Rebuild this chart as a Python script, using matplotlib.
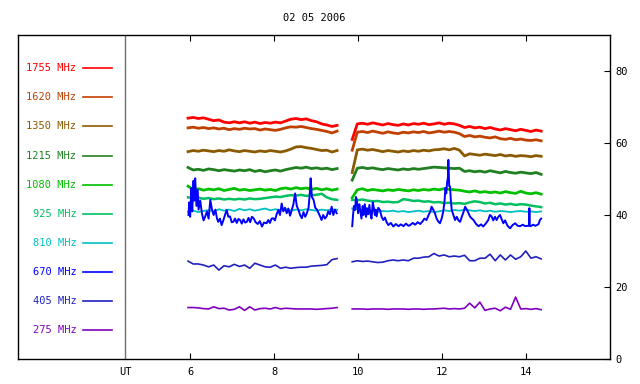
import numpy as np
import matplotlib
matplotlib.use("Agg")
import matplotlib.pyplot as plt

plt.rcParams['font.family'] = ['DejaVu Sans Mono']
plt.rcParams['font.size'] = 7.5

# tiempos de las dos tandas de registro (horas UT)
t_a = np.linspace(5.95, 9.50, 30)
t_b = np.linspace(9.86, 14.36, 38)

freqs = ['1755 MHz', '1620 MHz', '1350 MHz', '1215 MHz', '1080 MHz',
         '925 MHz', '810 MHz', '670 MHz', '405 MHz', '275 MHz']
colors = ['#ff0000', '#c04000', '#8b5a00', '#208020', '#00c000',
          '#00c060', '#00c0c0', '#0000ff', '#2020c0', '#8000c0']

f1755_a = [66.9, 67.1, 66.8, 67.0, 66.6, 66.2, 66.4, 65.8, 65.6, 65.9,
           65.6, 65.9, 65.5, 65.8, 65.4, 65.7, 65.5, 65.8, 65.6, 66.1,
           66.6, 66.8, 66.5, 66.7, 66.2, 65.9, 65.3, 65.0, 64.6, 64.9]
f1755_b = [61.0, 65.3, 65.5, 65.2, 65.6, 65.3, 65.0, 65.4, 65.1, 64.9,
           65.3, 65.0, 65.4, 65.2, 65.5, 65.1, 65.3, 65.6, 65.2, 65.5,
           65.3, 64.9, 64.3, 64.6, 64.2, 64.4, 64.0, 64.3, 63.9, 63.6,
           64.0, 63.7, 63.4, 63.8, 63.5, 63.2, 63.6, 63.3]

f1620_a = [64.2, 64.4, 64.1, 64.3, 64.0, 64.2, 63.9, 64.1, 63.7, 64.0,
           63.8, 64.1, 63.9, 64.0, 63.6, 63.9, 63.7, 63.5, 63.8, 64.2,
           64.5, 64.4, 64.6, 64.3, 64.0, 63.8, 63.5, 63.2, 62.8, 63.3]
f1620_b = [58.0, 63.0, 63.2, 62.9, 63.3, 63.0, 62.7, 63.1, 62.8, 62.6,
           63.0, 62.8, 63.1, 62.9, 63.2, 62.8, 63.0, 63.3, 63.0, 63.2,
           63.0, 62.6, 61.8, 62.1, 61.7, 61.9, 61.6, 61.4, 61.7, 61.2,
           61.0, 61.3, 60.9, 61.1, 60.8, 60.7, 60.9, 60.6]

f1350_a = [57.6, 57.9, 57.7, 58.0, 57.8, 57.6, 57.9, 57.7, 58.1, 57.8,
           57.6, 57.9, 57.7, 57.5, 57.8, 57.6, 57.9, 57.7, 57.5, 57.8,
           58.3, 58.9, 59.0, 58.7, 58.5, 58.2, 57.9, 58.0, 57.5, 57.9]
f1350_b = [51.8, 58.1, 58.3, 58.0, 58.2, 57.9, 57.6, 57.9, 57.7, 57.5,
           57.8, 57.6, 57.9, 57.7, 58.0, 57.8, 58.1, 58.2, 58.4, 58.1,
           58.5, 58.0, 56.4, 57.0, 56.8, 56.6, 56.9, 56.7, 56.5, 56.8,
           56.4, 56.6, 56.3, 56.5, 56.4, 56.2, 56.5, 56.3]

f1215_a = [53.2, 52.5, 52.7, 52.4, 52.8, 52.6, 52.3, 52.6, 52.4, 52.2,
           52.5, 52.3, 52.6, 52.1, 52.4, 52.0, 52.3, 52.5, 52.2, 52.6,
           52.9, 53.2, 53.0, 53.3, 52.9, 53.1, 52.8, 53.0, 52.6, 52.9]
f1215_b = [49.7, 53.0, 53.2, 52.9, 53.1, 52.8, 52.6, 52.9, 52.7, 52.5,
           52.8, 52.6, 52.9, 52.7, 52.9, 53.1, 53.3, 53.2, 53.1, 53.0,
           52.9, 53.0, 52.1, 52.3, 52.0, 52.2, 51.9, 52.3, 52.0, 51.7,
           52.1, 51.8, 51.6, 51.9, 51.7, 51.5, 51.8, 51.3]

f1080_a = [48.0, 47.1, 47.3, 46.9, 47.2, 47.0, 47.3, 46.8, 47.1, 47.4,
           46.9, 47.1, 46.8, 47.0, 47.2, 46.9, 47.1, 46.8, 47.3, 47.5,
           47.2, 47.6, 47.3, 47.5, 47.1, 47.4, 47.0, 47.3, 46.9, 47.2]
f1080_b = [44.8, 47.0, 47.3, 46.8, 47.1, 46.9, 46.7, 47.0, 46.8, 47.1,
           46.9, 46.7, 47.0, 46.8, 47.1, 46.9, 47.2, 47.0, 47.3, 47.1,
           47.0, 46.9, 46.6, 46.4, 46.7, 46.3, 46.5, 46.2, 46.4, 46.1,
           46.5, 46.2, 46.0, 46.6, 46.1, 45.9, 46.2, 45.8]

f925_a = [44.9, 44.7, 44.8, 44.5, 44.7, 44.4, 44.6, 44.3, 44.5, 44.3,
          44.5, 44.3, 44.6, 44.4, 44.5, 44.7, 44.9, 45.1, 45.0, 45.3,
          45.5, 45.4, 45.6, 45.3, 45.5, 45.6, 45.9, 44.9, 44.4, 44.2]
f925_b = [44.2, 44.1, 44.3, 44.0, 43.8, 43.9, 43.6, 43.7, 43.5, 43.6,
          44.4, 44.2, 43.9, 44.0, 43.7, 43.8, 43.5, 43.6, 43.3, 43.4,
          43.2, 43.3, 43.1, 43.5, 43.8, 43.6, 43.2, 43.4, 43.0, 43.2,
          42.9, 43.1, 42.8, 43.0, 42.9, 42.6, 42.4, 42.2]

f810_a = [40.9, 41.2, 40.8, 41.1, 41.4, 41.0, 41.6, 41.2, 41.5, 41.1,
          41.7, 41.3, 41.6, 41.2, 41.5, 41.8, 41.3, 41.6, 41.4, 41.7,
          41.2, 41.5, 41.3, 41.6, 41.4, 41.2, 41.5, 41.3, 41.6, 41.4]
f810_b = [41.8, 41.6, 41.3, 41.0, 41.2, 40.9, 41.1, 41.0, 41.2, 40.9,
          41.1, 40.8, 41.0, 41.2, 40.9, 41.1, 40.8, 41.0, 41.3, 41.1,
          41.4, 41.2, 41.5, 41.3, 41.1, 41.3, 41.0, 41.2, 40.9, 41.1,
          41.0, 40.8, 41.0, 41.1, 40.9, 41.0, 40.8, 41.0]

# 670 MHz es muy ruidoso: va con sus propios tiempos (hora, valor)
f670_a = [(5.96, 40.0), (5.98, 43.5), (6.00, 39.5), (6.03, 47.5), (6.05, 41.0),
          (6.08, 49.5), (6.10, 44.0), (6.12, 50.2), (6.15, 42.5), (6.18, 47.0),
          (6.20, 41.5), (6.24, 44.0), (6.28, 40.5), (6.32, 38.5), (6.36, 39.6),
          (6.40, 41.0), (6.44, 39.0), (6.48, 44.2), (6.52, 41.5), (6.56, 40.0),
          (6.60, 41.5), (6.64, 39.0), (6.67, 38.1), (6.71, 39.0), (6.75, 37.2),
          (6.79, 38.5), (6.83, 40.0), (6.87, 41.4), (6.91, 39.5), (6.95, 39.6),
          (6.99, 38.0), (7.03, 38.1), (7.07, 39.0), (7.11, 37.8), (7.15, 38.9),
          (7.19, 38.6), (7.23, 37.6), (7.27, 38.8), (7.31, 37.9), (7.35, 38.1),
          (7.39, 39.2), (7.43, 38.0), (7.47, 39.5), (7.51, 39.1), (7.56, 38.0),
          (7.61, 37.5), (7.66, 38.3), (7.71, 36.8), (7.76, 37.9), (7.82, 37.7),
          (7.86, 38.6), (7.90, 37.8), (7.94, 39.0), (7.98, 39.1), (8.02, 38.5),
          (8.06, 40.2), (8.10, 41.4), (8.14, 40.0), (8.18, 43.2), (8.22, 41.0),
          (8.26, 42.0), (8.30, 40.5), (8.34, 41.8), (8.38, 39.8), (8.42, 41.4),
          (8.46, 43.0), (8.50, 46.0), (8.54, 42.5), (8.58, 41.4), (8.62, 40.0),
          (8.66, 39.1), (8.70, 40.8), (8.74, 39.5), (8.78, 40.5), (8.82, 42.0),
          (8.85, 46.0), (8.87, 50.2), (8.90, 45.0), (8.94, 44.2), (8.98, 42.0),
          (9.02, 41.5), (9.06, 40.5), (9.10, 39.5), (9.13, 38.6), (9.17, 40.0),
          (9.21, 39.0), (9.25, 39.6), (9.29, 41.0), (9.33, 40.2), (9.37, 42.3),
          (9.41, 40.0), (9.45, 41.5), (9.49, 40.5)]
f670_b = [(9.86, 36.9), (9.88, 40.0), (9.90, 42.5), (9.93, 41.4), (9.95, 45.0),
          (9.97, 44.2), (10.00, 40.5), (10.03, 43.0), (10.05, 41.4), (10.08, 39.0),
          (10.11, 42.5), (10.13, 40.0), (10.16, 43.0), (10.19, 39.5), (10.21, 41.9),
          (10.24, 40.2), (10.27, 42.8), (10.29, 40.5), (10.32, 39.0), (10.35, 43.5),
          (10.37, 42.3), (10.40, 40.0), (10.42, 41.5), (10.44, 39.6), (10.48, 42.0),
          (10.52, 41.4), (10.56, 39.5), (10.60, 38.6), (10.64, 39.3), (10.68, 38.0),
          (10.72, 37.2), (10.78, 37.8), (10.84, 36.8), (10.90, 37.5), (10.96, 36.9),
          (11.02, 37.4), (11.08, 36.9), (11.14, 37.6), (11.20, 37.0), (11.24, 37.2),
          (11.30, 37.8), (11.36, 37.3), (11.42, 38.0), (11.48, 37.5), (11.54, 38.3),
          (11.58, 39.0), (11.63, 38.6), (11.68, 40.0), (11.72, 41.0), (11.75, 42.3),
          (11.79, 41.5), (11.83, 40.5), (11.87, 39.0), (11.91, 38.2), (11.95, 37.7),
          (11.99, 39.0), (12.03, 41.0), (12.06, 44.0), (12.08, 47.5), (12.10, 46.0),
          (12.12, 49.0), (12.14, 50.5), (12.15, 55.3), (12.17, 48.0), (12.19, 47.9),
          (12.21, 44.0), (12.23, 41.4), (12.27, 40.0), (12.31, 38.6), (12.35, 39.5),
          (12.39, 38.5), (12.43, 38.1), (12.47, 39.5), (12.51, 40.8), (12.55, 42.3),
          (12.59, 41.5), (12.63, 40.5), (12.67, 39.5), (12.71, 39.0), (12.75, 38.6),
          (12.81, 37.5), (12.87, 36.9), (12.93, 37.4), (12.98, 36.8), (13.04, 37.6),
          (13.10, 38.6), (13.14, 40.0), (13.18, 39.6), (13.22, 38.5), (13.26, 39.5),
          (13.30, 38.6), (13.34, 39.5), (13.38, 40.0), (13.42, 38.8), (13.46, 37.7),
          (13.50, 38.5), (13.56, 37.0), (13.62, 36.3), (13.68, 37.2), (13.74, 37.7),
          (13.80, 37.0), (13.86, 36.9), (13.92, 37.3), (13.98, 36.9), (14.04, 37.0),
          (14.07, 37.0), (14.08, 41.9), (14.09, 37.0), (14.11, 36.9), (14.17, 37.3),
          (14.22, 37.0), (14.26, 37.2), (14.30, 37.5), (14.33, 38.6), (14.36, 39.0)]

f405_a = [27.2, 26.4, 26.4, 26.1, 25.6, 26.1, 24.7, 25.9, 25.6, 26.3,
          25.7, 26.1, 25.2, 26.6, 26.1, 25.6, 25.5, 26.1, 25.2, 25.5,
          25.2, 25.4, 25.5, 25.5, 25.8, 25.9, 26.0, 26.2, 27.6, 27.9]
f405_b = [27.0, 27.3, 27.1, 27.2, 27.0, 26.8, 26.9, 27.3, 27.5, 27.3,
          27.5, 27.3, 28.0, 28.0, 28.3, 28.4, 29.3, 28.6, 28.9, 28.4,
          28.6, 28.4, 28.8, 27.3, 27.3, 28.0, 28.0, 29.1, 27.3, 28.9,
          27.5, 28.9, 27.7, 28.4, 30.0, 28.0, 28.4, 27.8]

f275_a = [14.3, 14.3, 14.2, 14.0, 13.9, 14.5, 14.0, 14.1, 13.6, 13.8,
          14.5, 13.5, 14.5, 13.6, 14.0, 14.1, 13.9, 14.3, 13.9, 14.1,
          14.0, 13.9, 13.9, 13.9, 13.9, 13.8, 13.9, 14.0, 14.1, 14.3]
f275_b = [13.9, 13.9, 13.9, 13.8, 13.9, 13.9, 13.9, 13.8, 13.9, 13.9,
          13.9, 13.8, 13.9, 13.9, 13.8, 13.9, 13.9, 14.0, 14.1, 13.9,
          14.0, 13.9, 14.1, 15.5, 14.2, 15.8, 13.5, 13.9, 14.1, 13.4,
          14.4, 13.8, 17.2, 13.9, 14.0, 13.8, 14.0, 13.7]

legend_y = [80.8, 72.7, 64.6, 56.5, 48.4, 40.4, 32.3, 24.2, 16.0, 8.0]

fig = plt.figure(figsize=(6.4, 3.84), dpi=100)
ax = fig.add_axes([18/640, 25/384, 592/640, 324/384])

smooth = [(f1755_a, f1755_b), (f1620_a, f1620_b), (f1350_a, f1350_b),
          (f1215_a, f1215_b), (f1080_a, f1080_b), (f925_a, f925_b),
          (f810_a, f810_b), None, (f405_a, f405_b), (f275_a, f275_b)]
widths = [2.0, 2.0, 2.0, 2.0, 2.0, 1.8, 1.3, 1.4, 1.2, 1.2]

for i, pair in enumerate(smooth):
    if pair is None:
        for seg in (f670_a, f670_b):
            tt, vv = zip(*seg)
            ax.plot(tt, vv, color=colors[i], lw=widths[i])
        continue
    ax.plot(t_a, pair[0], color=colors[i], lw=widths[i])
    ax.plot(t_b, pair[1], color=colors[i], lw=widths[i])

# leyenda a mano en el panel izquierdo
for name, c, yy in zip(freqs, colors, legend_y):
    ax.text(3.29, yy, name, color=c, ha='right', va='center', fontsize=7.5)
    ax.plot([3.45, 4.14], [yy, yy], color=c, lw=1.2)

ax.axvline(4.45, color='#707070', lw=1.0)
ax.text(4.45, -2.2, 'UT', ha='center', va='top', fontsize=7.5)

ax.set_xlim(1.9, 16.0)
ax.set_ylim(0, 90)
ax.set_xticks([6, 8, 10, 12, 14])
ax.set_yticks([0, 20, 40, 60, 80])
ax.yaxis.tick_right()
ax.tick_params(axis='x', direction='in', top=True, bottom=True, length=4, pad=6)
ax.tick_params(axis='y', direction='in', left=False, right=True, length=4, pad=4)
for s in ax.spines.values():
    s.set_linewidth(1.0)

ax.set_title('02 05 2006', fontsize=7.5, pad=10)

fig.savefig('out.png', dpi=100)
